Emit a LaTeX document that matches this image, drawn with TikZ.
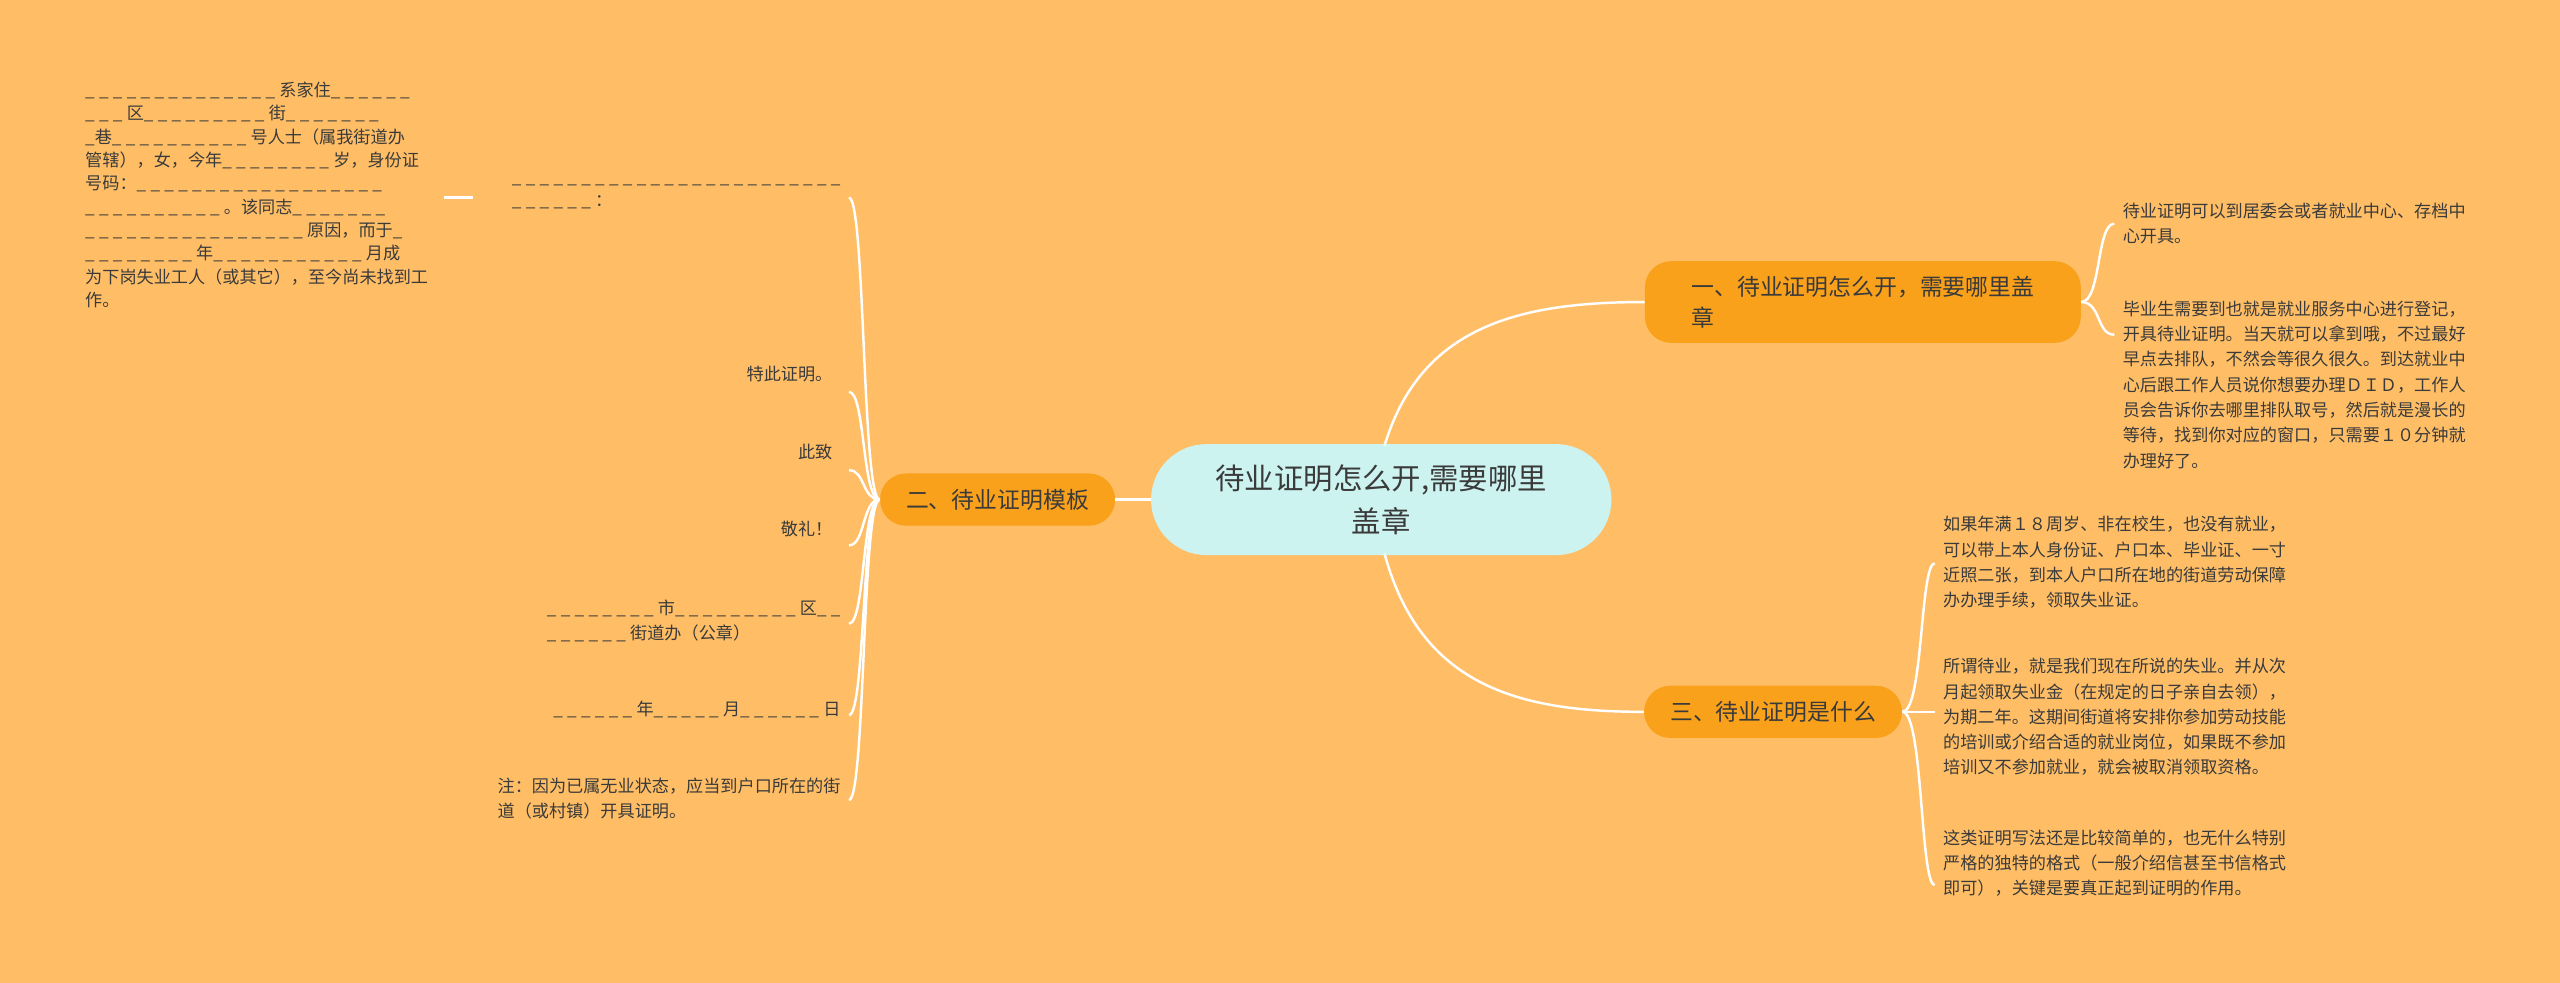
\documentclass[tikz,border=0pt]{standalone}
\usepackage{fontspec}
\setmainfont{Noto Sans CJK SC}
\usepackage{xcolor}
\definecolor{bgorange}{HTML}{FFBE66}
\definecolor{branchorange}{HTML}{F9A11B}
\definecolor{rootcyan}{HTML}{CCF3F0}
\definecolor{inkgray}{HTML}{3A3A3A}
\newcommand\blank[1]{\foreach\k in {1,...,#1}{\_\hspace{0.25em}}}

\tikzset{
	rootbox/.style={fill=rootcyan, rounded corners=34pt, minimum width=282pt, minimum height=68pt,
		align=center, font=\fontsize{18}{26}\selectfont, text=inkgray},
	branchbox/.style={fill=branchorange, rounded corners=16pt, minimum height=32pt, inner xsep=16pt,
		align=left, font=\fontsize{14}{19}\selectfont, text=inkgray},
	leaftext/.style={inner sep=0pt, align=left, font=\fontsize{10.5}{15.5}\selectfont, text=inkgray},
	tplline/.style={inner sep=0pt, align=left, font=\fontsize{10.5}{14.3}\selectfont, text=inkgray},
	link/.style={draw=white, line width=1.5pt}
}

\begin{document}
\begin{tikzpicture}[x=1pt, y=-1pt]

\fill[bgorange] (0,0) rectangle (1568,602);
\useasboundingbox (0,0) rectangle (1568,602);

% centre and branches
\node[rootbox] (root) at (846,306) {待业证明怎么开,需要哪里\\盖章};
\node[branchbox, minimum width=267pt, minimum height=50pt] (howto) at (1141,185) {一、待业证明怎么开，需要哪里盖\\章};
\node[branchbox, minimum width=143pt] (model) at (611,306) {二、待业证明模板};
\node[branchbox, minimum width=157pt] (what) at (1086,436) {三、待业证明是什么};

\draw[link] (848,273) .. controls (870,200) and (930,185) .. (howto.west);
\draw[link] (848,339) .. controls (870,420) and (930,436) .. (what.west);
\draw[link] (root.west) -- (model.east);

% leaves of branch one
\node[leaftext, anchor=north west] (where) at (1300,124) {待业证明可以到居委会或者就业中心、存档中\\心开具。};
\node[leaftext, anchor=north west] (grad) at (1300,184) {毕业生需要到也就是就业服务中心进行登记，\\开具待业证明。当天就可以拿到哦，不过最好\\早点去排队，不然会等很久很久。到达就业中\\心后跟工作人员说你想要办理ＤＩＤ，工作人\\员会告诉你去哪里排队取号，然后就是漫长的\\等待，找到你对应的窗口，只需要１０分钟就\\办理好了。};

\foreach \y in {137,205}{
	\draw[link] (howto.east) .. controls (1287,185) and (1284,\y) .. (1295,\y);
}

% leaves of branch three
\node[leaftext, anchor=north west] (adult) at (1190,316) {如果年满１８周岁、非在校生，也没有就业，\\可以带上本人身份证、户口本、毕业证、一寸\\近照二张，到本人户口所在地的街道劳动保障\\办办理手续，领取失业证。};
\node[leaftext, anchor=north west] (mean) at (1190,403) {所谓待业，就是我们现在所说的失业。并从次\\月起领取失业金（在规定的日子亲自去领），\\为期二年。这期间街道将安排你参加劳动技能\\的培训或介绍合适的就业岗位，如果既不参加\\培训又不参加就业，就会被取消领取资格。};
\node[leaftext, anchor=north west] (simple) at (1190,508) {这类证明写法还是比较简单的，也无什么特别\\严格的独特的格式（一般介绍信甚至书信格式\\即可），关键是要真正起到证明的作用。};

\foreach \y in {345,436,542}{
	\draw[link] (what.east) .. controls (1178,436) and (1176,\y) .. (1185,\y);
}

% leaves of branch two
\node[tplline, anchor=north west] (person) at (52,50) {\blank{14}系家住\blank{6}\\\blank{3}区\blank{9}街\blank{7}\\\_巷\blank{10}号人士（属我街道办\\管辖），女，今年\blank{8}岁，身份证\\号码：\blank{18}\\\blank{10}。该同志\blank{7}\\\blank{16}原因，而于\_\\\blank{8}年\blank{11}月成\\为下岗失业工人（或其它），至今尚未找到工\\作。};
\node[tplline, anchor=north east] (line) at (515,112) {\blank{24}\\\blank{6}：\hspace{145pt}};
\draw[link] (272,121) -- (290,121);
\node[leaftext, anchor=north east] (hereby) at (510,224) {特此证明。};
\node[leaftext, anchor=north east] (salute) at (510,272) {此致};
\node[leaftext, anchor=north east] (respect) at (510,319) {敬礼！};
\node[leaftext, anchor=north east] (stamp) at (515,367) {\blank{8}市\blank{9}区\blank{2}\\\blank{6}街道办（公章）\hspace{103pt}};
\node[leaftext, anchor=north east] (date) at (515,429) {\blank{6}年\blank{5}月\blank{6}日};
\node[leaftext, anchor=north east] (note) at (515,476) {注：因为已属无业状态，应当到户口所在的街\\道（或村镇）开具证明。\hspace{83pt}};

\foreach \y in {121,240,288,334,382,438,490}{
	\draw[link] (model.west) .. controls (528,306) and (530,\y) .. (520,\y);
}

\end{tikzpicture}
\end{document}
